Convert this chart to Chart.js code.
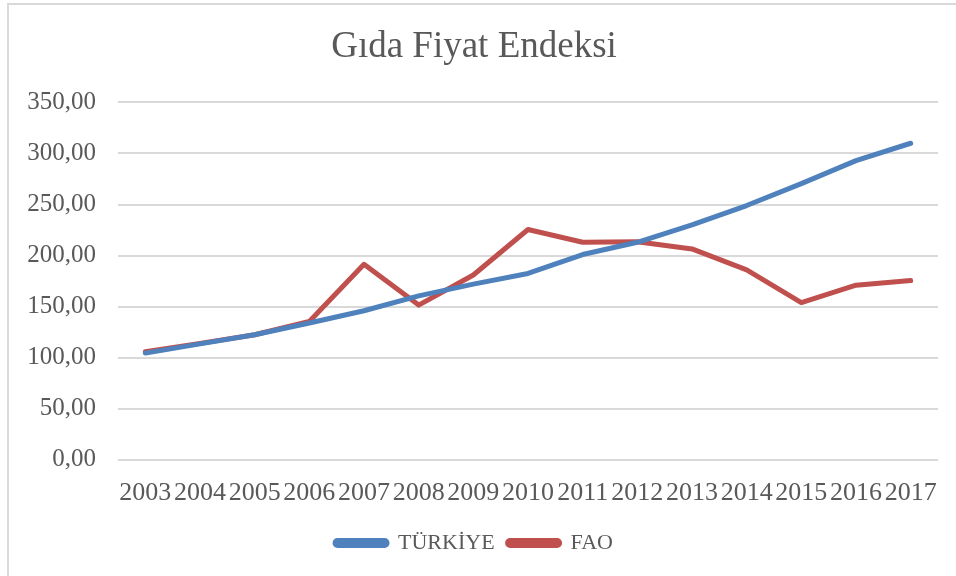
<!DOCTYPE html>
<html>
<head>
<meta charset="utf-8">
<script src="https://cdn.jsdelivr.net/npm/chart.js@4"></script>
<style>
  html, body { margin: 0; padding: 0; background: #fff; }
  #wrap { position: relative; width: 956px; height: 576px; overflow: hidden; }
  #frame { position: absolute; left: 7px; top: 3px; width: 960px; height: 580px;
           border-left: 2px solid #d9d9d9; border-top: 2px solid #d9d9d9; }
  canvas { position: absolute; left: 0; top: 0; }
</style>
</head>
<body>
<div id="wrap">
  <div id="frame"></div>
  <canvas id="foodChart" width="956" height="576"></canvas>
</div>
<script>
const years = ["2003", "2004", "2005", "2006", "2007", "2008", "2009", "2010",
  "2011", "2012", "2013", "2014", "2015", "2016", "2017"];
const turkiye = [104.5, 113.5, 122.5, 134, 146, 160.5, 172, 182.5, 201, 213, 230, 249, 270.5, 293, 310];
const fao = [105.8, 114, 122.5, 135.5, 191.5, 151.5, 181, 225.5, 213, 213.5, 206.5, 186, 154, 171, 175.5];

const textColor = "#595959";
const fontFamily = "'Liberation Serif', 'DejaVu Serif', serif";

const ctx = document.getElementById("foodChart").getContext("2d");

new Chart(ctx, {
  type: "line",
  data: {
    labels: years,
    datasets: [
      {
        label: "TÜRKİYE",
        data: turkiye,
        borderColor: "#4f81bd",
        backgroundColor: "#4f81bd",
        borderWidth: 5,
        pointRadius: 0,
        borderCapStyle: "round",
        borderJoinStyle: "round",
        tension: 0
      },
      {
        label: "FAO",
        data: fao,
        borderColor: "#c0504d",
        backgroundColor: "#c0504d",
        borderWidth: 5,
        pointRadius: 0,
        borderCapStyle: "round",
        borderJoinStyle: "round",
        tension: 0
      }
    ]
  },
  options: {
    responsive: false,
    animation: false,
    layout: { padding: { left: 10, right: 18, top: 0, bottom: 12 } },
    plugins: {
      title: {
        display: true,
        text: "Gıda Fiyat Endeksi",
        color: textColor,
        font: { family: fontFamily, size: 37, weight: "normal" },
        padding: { top: 25, bottom: 33 }
      },
      legend: {
        position: "bottom",
        labels: {
          color: textColor,
          font: { family: fontFamily, size: 22 },
          boxWidth: 52,
          boxHeight: 5,
          useBorderRadius: true,
          borderRadius: 2.5,
          padding: 13
        }
      },
      tooltip: { enabled: false }
    },
    scales: {
      x: {
        offset: true,
        grid: { display: false },
        border: { display: false },
        ticks: {
          color: textColor,
          font: { family: fontFamily, size: 26 },
          autoSkip: false,
          maxRotation: 0,
          padding: 10
        }
      },
      y: {
        min: 0,
        max: 350,
        afterFit: s => { s.width = 108; },
        grid: { color: "#d9d9d9", lineWidth: 2, drawTicks: false },
        border: { display: false },
        ticks: {
          stepSize: 50,
          color: textColor,
          font: { family: fontFamily, size: 25 },
          padding: 22,
          callback: v => v.toFixed(2).replace(".", ",")
        }
      }
    }
  }
});
</script>
</body>
</html>
